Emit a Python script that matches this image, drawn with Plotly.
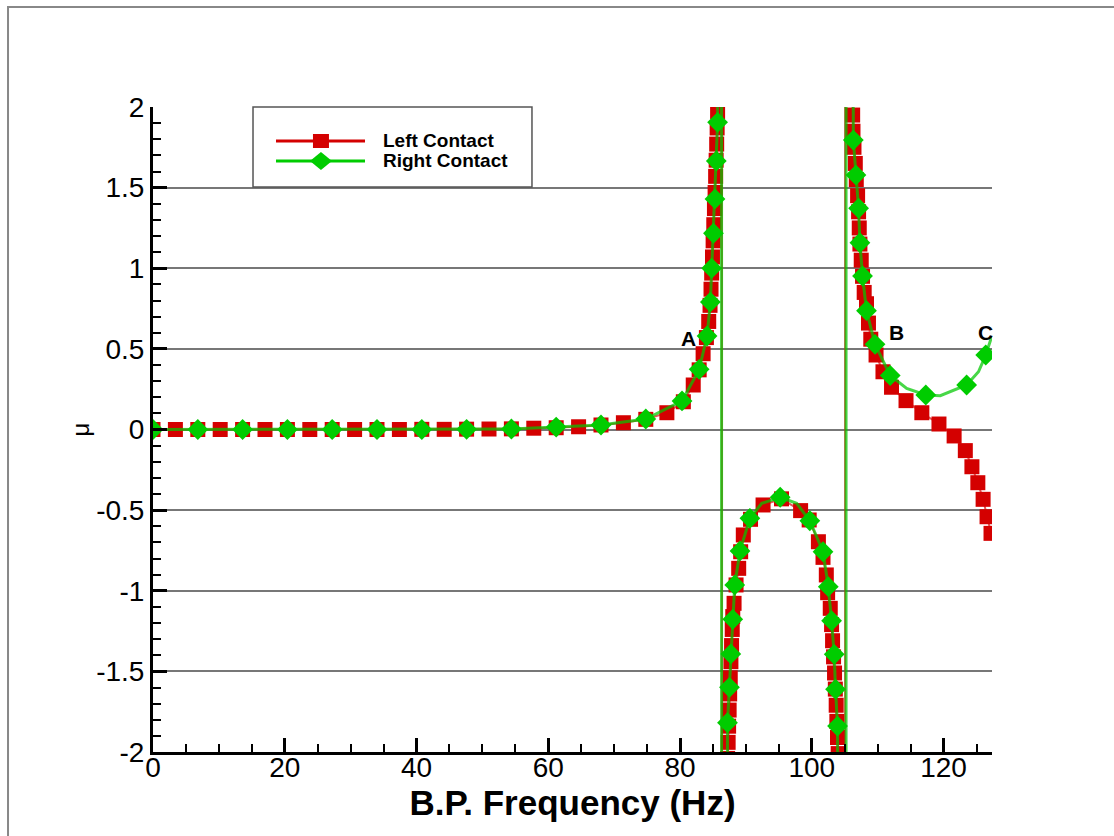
import plotly.graph_objects as go

# ---------------- data ----------------
left_x = [0, 3.4, 6.8, 10.2, 13.6, 17.0, 20.4, 23.8, 27.2, 30.6, 34.0, 37.4, 40.8, 44.2, 47.6,
          51.0, 54.4, 57.8, 61.2, 64.6, 68.0, 71.4, 74.8, 78.0, 80.5, 82.0, 82.9, 83.5, 84.0,
          84.35, 84.55, 84.7, 84.8, 84.92, 85.02, 85.12, 85.22, 85.32, 85.4, 85.48, 85.56,
          85.63, 85.7, 85.77,
          86.35, 86.35,
          87.22, 87.3, 87.37, 87.45, 87.53, 87.62, 87.72, 87.82, 87.92, 88.0, 88.2, 88.5, 88.9,
          89.2, 89.6, 90.7, 92.6, 95.4, 98.3, 99.6, 101.0, 101.7, 102.2, 102.4, 102.8, 103.0,
          103.15, 103.3, 103.45, 103.57, 103.7, 103.8, 103.9, 104.0,
          105.05, 105.05,
          106.15, 106.2, 106.25, 106.4, 106.6, 106.75, 106.95, 107.1, 107.2, 107.3, 107.5,
          107.7, 107.95, 108.3, 108.6, 108.95, 109.75, 110.8, 112.1, 114.3, 116.7, 119.3,
          121.6, 123.3, 124.3, 125.2, 126.0, 126.6, 127.2]
left_y = [0, 0, 0, 0, 0, 0, 0, 0, 0, 0, 0, 0, 0.001, 0.001, 0.002,
          0.003, 0.004, 0.008, 0.011, 0.017, 0.028, 0.042, 0.063, 0.104, 0.172, 0.276, 0.37, 0.47, 0.57,
          0.67, 0.77, 0.87, 0.97, 1.07, 1.17, 1.27, 1.37, 1.47, 1.57, 1.67, 1.77,
          1.87, 1.97, 2.07,
          40, -40,
          -2.04, -1.94, -1.84, -1.74, -1.64, -1.54, -1.44, -1.34, -1.24, -1.16, -1.078, -0.964, -0.861,
          -0.758, -0.654, -0.557, -0.468, -0.43, -0.503, -0.561, -0.696, -0.793, -0.902, -1.012, -1.109, -1.21,
          -1.31, -1.41, -1.51, -1.61, -1.71, -1.81, -1.91, -2.01,
          -40, 40,
          2.05, 1.95, 1.85, 1.75, 1.65, 1.55, 1.45, 1.35, 1.25, 1.15, 1.05,
          0.95, 0.85, 0.78, 0.66, 0.56, 0.462, 0.358, 0.262, 0.179, 0.104, 0.034,
          -0.04, -0.131, -0.231, -0.33, -0.433, -0.541, -0.644]

# Right contact: points carrying a symbol
right_x = [0, 6.8, 13.6, 20.4, 27.2, 34.0, 40.8, 47.6, 54.4, 61.2, 68.0, 74.8, 80.3, 82.9,
           84.1, 84.6, 84.8, 85.07, 85.3, 85.5, 85.7,
           87.2, 87.5, 87.7, 88.0, 88.3, 89.1, 90.6, 95.2, 99.7, 101.7, 102.5, 103.0, 103.4,
           103.6, 103.9,
           106.3, 106.7, 107.1, 107.3, 107.7, 108.3, 109.6, 111.9, 117.3, 123.5, 126.4]
right_y = [0, 0, 0, 0, 0, 0, 0, 0.001, 0.003, 0.015, 0.028, 0.065, 0.177, 0.373,
           0.58, 0.79, 1.0, 1.217, 1.43, 1.665, 1.905,
           -1.818, -1.599, -1.392, -1.177, -0.964, -0.753, -0.551, -0.42, -0.566, -0.758, -0.975, -1.186, -1.394,
           -1.611, -1.839,
           1.795, 1.578, 1.372, 1.158, 0.952, 0.737, 0.528, 0.335, 0.214, 0.276, 0.462]
# Right contact: curve-only points (poles and curve between symbols)
right_curve_x = [86.3, 86.3, 92.4, 97.7, 105.2, 105.2, 114.4, 119.5, 125.3, 127.3]
right_curve_y = [40, -40, -0.458, -0.458, -40, 40, 0.255, 0.21, 0.358, 0.575]

x_ticks = [0, 20, 40, 60, 80, 100, 120]
y_ticks = [-2, -1.5, -1, -0.5, 0, 0.5, 1, 1.5, 2]
y_tick_text = ["-2", "-1.5", "-1", "-0.5", "0", "0.5", "1", "1.5", "2"]

labels = ["A", "B", "C"]
label_x = [81.25, 112.9, 126.3]
label_y = [0.566, 0.603, 0.603]

# ---------------- figure ----------------
RED = "#d40000"
GREEN = "#00cc00"
FONT = "Arial, Liberation Sans, Helvetica, sans-serif"

pts = sorted(list(zip(right_x, right_y)) + list(zip(right_curve_x, right_curve_y)),
             key=lambda p: p[0])
rc_x = [p[0] for p in pts]
rc_y = [p[1] for p in pts]

fig = go.Figure()
fig.add_trace(go.Scatter(x=left_x, y=left_y, mode="lines+markers", name="Left Contact",
                         line=dict(color="rgba(220,30,30,0.75)", width=2),
                         marker=dict(symbol="square", size=15, color=RED, line=dict(width=0)),
                         showlegend=False))
fig.add_trace(go.Scatter(x=rc_x, y=rc_y, mode="lines", name="Right Contact",
                         line=dict(color="rgba(0,200,0,0.72)", width=3),
                         showlegend=False, hoverinfo="skip"))
fig.add_trace(go.Scatter(x=right_x, y=right_y, mode="markers", name="Right Contact",
                         marker=dict(symbol="diamond", size=16, color=GREEN, line=dict(width=0)),
                         showlegend=False))

for t, lx, ly in zip(labels, label_x, label_y):
    fig.add_annotation(x=lx, y=ly, text="<b>%s</b>" % t, showarrow=False,
                       font=dict(family=FONT, size=21, color="black"),
                       xanchor="center", yanchor="middle")

# legend drawn as a framed box
shapes = []
shapes.append(dict(type="rect", xref="paper", yref="paper", x0=-0.1728, x1=1.4,
                   y0=-0.4, y1=1.155, line=dict(color="#888", width=2), layer="below"))
shapes.append(dict(type="rect", xref="paper", yref="paper", x0=0.1192, x1=0.4517,
                   y0=0.876, y1=1.0, line=dict(color="#555", width=1.5), fillcolor="white"))
shapes.append(dict(type="line", xref="paper", yref="paper", x0=0.1466, x1=0.2527,
                   y0=0.9473, y1=0.9473, line=dict(color=RED, width=3)))
shapes.append(dict(type="line", xref="paper", yref="paper", x0=0.1466, x1=0.2527,
                   y0=0.9163, y1=0.9163, line=dict(color=GREEN, width=3)))
shapes.append(dict(type="rect", xref="paper", yref="paper", xsizemode="pixel", ysizemode="pixel",
                   xanchor=0.2002, yanchor=0.9473, x0=-8, x1=8, y0=-7, y1=7,
                   fillcolor=RED, line=dict(width=0)))
shapes.append(dict(type="path", xref="paper", yref="paper", xsizemode="pixel", ysizemode="pixel",
                   xanchor=0.2002, yanchor=0.9163, path="M0,9 L11,0 L0,-9 L-11,0 Z",
                   fillcolor=GREEN, line=dict(width=0)))
fig.add_annotation(xref="paper", yref="paper", x=0.2718, y=0.9473, text="<b>Left Contact</b>",
                   showarrow=False, xanchor="left", yanchor="middle",
                   font=dict(family=FONT, size=19, color="black"))
fig.add_annotation(xref="paper", yref="paper", x=0.2718, y=0.9163, text="<b>Right Contact</b>",
                   showarrow=False, xanchor="left", yanchor="middle",
                   font=dict(family=FONT, size=19, color="black"))

fig.update_layout(
    width=1114, height=836, autosize=False,
    margin=dict(l=153, r=122, t=107, b=84),
    paper_bgcolor="white", plot_bgcolor="white",
    font=dict(family=FONT, color="black"),
    shapes=shapes,
    xaxis=dict(range=[0, 127.35], tickmode="array", tickvals=x_ticks,
               ticks="inside", ticklen=14, tickwidth=3, tickcolor="black",
               showline=True, linecolor="black", linewidth=3,
               showgrid=False, zeroline=False,
               minor=dict(ticks="inside", tickmode="linear", tick0=0, dtick=5, ticklen=8,
                          tickwidth=1.5, tickcolor="black", showgrid=False),
               tickfont=dict(family=FONT, size=28, color="black"),
               ticklabelstandoff=-12,
               title=dict(text="<b>B.P. Frequency (Hz)</b>", standoff=0,
                          font=dict(family=FONT, size=35, color="black"))),
    yaxis=dict(range=[-2, 2], tickmode="array", tickvals=y_ticks, ticktext=y_tick_text,
               ticks="inside", ticklen=14, tickwidth=3, tickcolor="black",
               showline=True, linecolor="black", linewidth=3,
               showgrid=True, gridcolor="#777", gridwidth=1.5, zeroline=False,
               minor=dict(ticks="inside", tickmode="linear", tick0=0, dtick=0.1, ticklen=8,
                          tickwidth=1.5, tickcolor="black", showgrid=False),
               tickfont=dict(family=FONT, size=28, color="black"),
               ticklabelstandoff=0,
               title=dict(text="μ", standoff=0,
                          font=dict(family=FONT, size=24, color="black"))),
)

fig.write_html("out.html")
